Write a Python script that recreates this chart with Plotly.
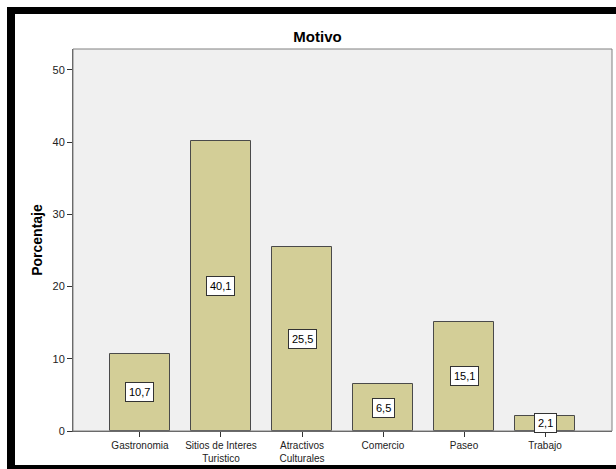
import plotly.graph_objects as go

categories = ["Gastronomia", "Sitios de Interes<br>Turistico", "Atractivos<br>Culturales",
              "Comercio", "Paseo", "Trabajo"]
values = [10.7, 40.1, 25.5, 6.5, 15.1, 2.1]
value_labels = ["10,7", "40,1", "25,5", "6,5", "15,1", "2,1"]
y_ticks = [0, 10, 20, 30, 40, 50]

W, H = 616, 469
L, R, T, B = 73, 4, 49, 38
pw, ph = W - L - R, H - T - B

def px(x):
    return (x - L) / pw

def py(y):
    return (H - B - y) / ph

xs = list(range(len(categories)))

fig = go.Figure()
fig.add_trace(go.Bar(
    x=xs, y=values, width=0.74,
    marker=dict(color="#D3CE97", line=dict(color="#4a4a4a", width=1)),
    hoverinfo="skip",
))

for i, (v, lab) in enumerate(zip(values, value_labels)):
    fig.add_annotation(x=i, y=v / 2, text=lab, showarrow=False,
                       font=dict(family="Liberation Sans, Arial", size=11, color="black"),
                       bgcolor="white", bordercolor="#333333", borderwidth=1, borderpad=3)

shapes = [
    # black frame: top, left, bottom
    dict(type="rect", xref="paper", yref="paper", x0=px(7), x1=px(616), y0=py(7), y1=py(14),
         fillcolor="black", line=dict(width=0), layer="above"),
    dict(type="rect", xref="paper", yref="paper", x0=px(7), x1=px(15), y0=py(7), y1=py(469),
         fillcolor="black", line=dict(width=0), layer="above"),
    dict(type="rect", xref="paper", yref="paper", x0=px(7), x1=px(616), y0=py(465), y1=py(469),
         fillcolor="black", line=dict(width=0), layer="above"),
    # plot border
    dict(type="rect", xref="paper", yref="paper", x0=0, x1=1, y0=0, y1=1,
         line=dict(color="#808080", width=1), layer="above"),
]

fig.update_layout(
    width=W, height=H,
    margin=dict(l=L, r=R, t=T, b=B, autoexpand=False),
    paper_bgcolor="white", plot_bgcolor="#F0F0F0",
    showlegend=False,
    bargap=0,
    shapes=shapes,
    title=dict(text="<b>Motivo</b>", xref="container", x=317.5 / W, xanchor="center",
               yref="container", y=1 - 37 / H, yanchor="middle",
               font=dict(family="Liberation Sans, Arial", size=15, color="black")),
    font=dict(family="Liberation Sans, Arial", size=10, color="black"),
    xaxis=dict(range=[-0.827, 5.827], tickmode="array", tickvals=xs, ticktext=categories,
               ticks="outside", ticklen=5, tickcolor="#333333", showgrid=False, zeroline=False,
               showline=True, linecolor="#555555", linewidth=1, automargin=False,
               tickfont=dict(size=10, color="#222222")),
    yaxis=dict(range=[0, 52.9], tickmode="array", tickvals=y_ticks,
               ticks="outside", ticklen=5, tickcolor="#333333", showgrid=False, zeroline=False,
               showline=True, linecolor="#555555", linewidth=1, automargin=False,
               tickfont=dict(size=11, color="#222222"),
               title=dict(text="<b>Porcentaje</b>", font=dict(size=14, color="black"), standoff=6)),
)

fig.write_html("out.html", config={"displayModeBar": False},
               post_script="document.body.style.margin='0';document.body.style.padding='0';")
